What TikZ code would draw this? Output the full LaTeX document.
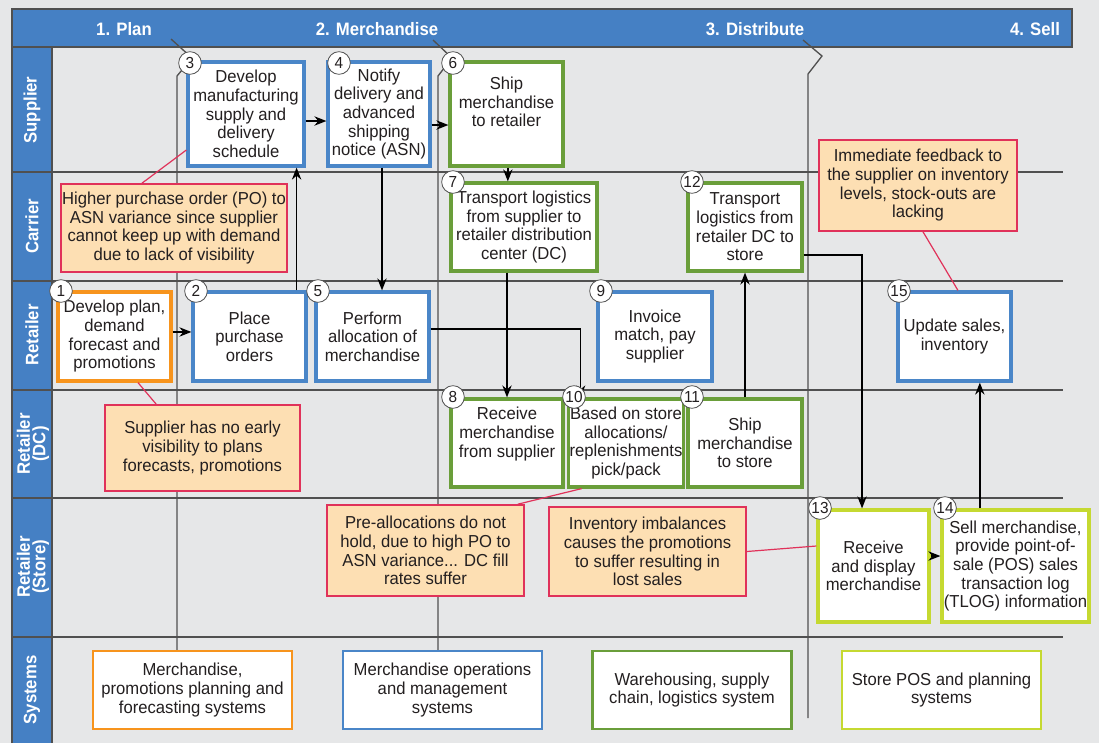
\documentclass[tikz,border=0pt]{standalone}
\usepackage{fontspec}
\setmainfont{Liberation Sans}[FakeStretch=0.96]
\newfontfamily\hdfont{Liberation Sans}[FakeStretch=0.93]
\usetikzlibrary{arrows.meta,calc}
\definecolor{bgc}{HTML}{E6E7E8}
\definecolor{hdblue}{HTML}{4580C4}
\definecolor{lineg}{HTML}{505050}
\definecolor{bluebd}{HTML}{4A86C8}
\definecolor{orangebd}{HTML}{F7941D}
\definecolor{greenbd}{HTML}{6A9E3A}
\definecolor{ygbd}{HTML}{C5D931}
\definecolor{calfill}{HTML}{FDDFB3}
\definecolor{calbd}{HTML}{E0325A}
\definecolor{txt}{HTML}{231F20}
\begin{document}
\begin{tikzpicture}[x=0.75pt,y=-0.75pt,
  bodyfont/.style={font=\fontsize{13}{14}\selectfont},
  stepbox/.style={draw, line width=2.4pt, fill=white, inner sep=1pt, align=center, text=txt, bodyfont},
  sysbox/.style={draw, line width=2pt, fill=white, inner sep=1pt, align=center, text=txt, bodyfont,
    minimum width={199*0.75pt}, minimum height={78*0.75pt}},
  callout/.style={draw=calbd, fill=calfill, line width=1.2pt, inner sep=1pt, align=center, text=txt, bodyfont},
  numc/.style={circle, draw=lineg, fill=white, line width=0.6pt, minimum size=17pt, inner sep=0pt, text=txt,
    font=\fontsize{12}{12}\selectfont},
  arr/.style={-{Stealth[length=9pt,width=7pt]}, line width=1.1pt, black},
  callline/.style={calbd, line width=0.9pt},
  divider/.style={lineg, line width=1pt},
  lanelab/.style={text=white, font=\hdfont\bfseries\fontsize{13.5}{11.5}\selectfont, rotate=90, align=center},
  phaselab/.style={text=white, font=\hdfont\bfseries\fontsize{13.5}{14}\selectfont}
]
\fill[bgc] (0,0) rectangle (1099,743);
\useasboundingbox (0,0) rectangle (1099,743);

% header and lane column
\fill[hdblue] (12,9) rectangle (1072,47);
\draw[lineg, line width=0.8pt] (12,9) rectangle (1072,47);
\fill[hdblue] (12,47) rectangle (52,743);
\draw[lineg, line width=0.8pt] (12,743) -- (12,47) -- (52,47) -- (52,743);

% lane separators
\foreach \yy in {172,281,390,498,637}
  \draw[lineg, line width=1pt] (12,\yy) -- (1063,\yy);

% phase labels
\node[phaselab] (ph1) at (124,29) {1. Plan};
\node[phaselab] (ph2) at (377,29) {2. Merchandise};
\node[phaselab] (ph3) at (755,29) {3. Distribute};
\node[phaselab] (ph4) at (1035,29) {4. Sell};

% lane labels
\node[lanelab] (l1) at (32,110) {Supplier};
\node[lanelab] (l2) at (32,226) {Carrier};
\node[lanelab] (l3) at (32,335) {Retailer};
\node[lanelab] (l4) at (33,444) {Retailer\\(DC)};
\node[lanelab] (l5) at (33,567) {Retailer\\(Store)};
\node[lanelab] (l6) at (32,690) {Systems};

% phase dividers
\draw[divider] (171,39) -- (192,58) -- (177,76) -- (177,651);
\draw[divider] (433,40) -- (452,58) -- (438,76) -- (438,651);
\draw[divider] (803,40) -- (822,56) -- (808,74) -- (808,718);

% process boxes
\node[stepbox, draw=orangebd, minimum width={113*0.75pt}, minimum height={89*0.75pt}] (n1) at (114.5,336.5)
  {Develop plan,\\demand\\forecast and\\promotions};
\node[stepbox, draw=bluebd, minimum width={113*0.75pt}, minimum height={89*0.75pt}] (n2) at (249.5,336.5)
  {Place\\purchase\\orders};
\node[stepbox, draw=bluebd, minimum width={116*0.75pt}, minimum height={104*0.75pt}] (n3) at (246,114)
  {Develop\\manufacturing\\supply and\\delivery\\schedule};
\node[stepbox, draw=bluebd, minimum width={102*0.75pt}, minimum height={104*0.75pt}] (n4) at (379,114)
  {Notify\\delivery and\\advanced\\shipping\\notice (ASN)};
\node[stepbox, draw=bluebd, minimum width={113*0.75pt}, minimum height={89*0.75pt}] (n5) at (372.5,336.5)
  {Perform\\allocation of\\merchandise};
\node[stepbox, draw=greenbd, minimum width={113*0.75pt}, minimum height={104*0.75pt}] (n6) at (506.5,114)
  {Ship\\merchandise\\to retailer\\[4pt]};
\node[stepbox, draw=greenbd, minimum width={146*0.75pt}, minimum height={88*0.75pt}] (n7) at (524,227)
  {Transport logistics\\from supplier to\\retailer distribution\\center (DC)};
\node[stepbox, draw=greenbd, minimum width={112*0.75pt}, minimum height={88*0.75pt}] (n8) at (507,443)
  {Receive\\merchandise\\from supplier\\[2pt]};
\node[stepbox, draw=bluebd, minimum width={114*0.75pt}, minimum height={89*0.75pt}] (n9) at (655,336.5)
  {Invoice\\match, pay\\supplier};
\node[stepbox, draw=greenbd, minimum width={112*0.75pt}, minimum height={88*0.75pt}] (n10) at (626,443)
  {Based on store\\allocations/\\replenishments\\pick/pack};
\node[stepbox, draw=greenbd, minimum width={114*0.75pt}, minimum height={88*0.75pt}] (n11) at (745,443)
  {Ship\\merchandise\\to store};
\node[stepbox, draw=greenbd, minimum width={114*0.75pt}, minimum height={88*0.75pt}] (n12) at (745,227)
  {Transport\\logistics from\\retailer DC to\\store};
\node[stepbox, draw=ygbd, minimum width={111*0.75pt}, minimum height={112*0.75pt}] (n13) at (873.5,566)
  {Receive\\and display\\merchandise};
\node[stepbox, draw=ygbd, minimum width={147*0.75pt}, minimum height={112*0.75pt}] (n14) at (1015.5,566)
  {Sell merchandise,\\provide point-of-\\sale (POS) sales\\transaction log\\(TLOG) information};
\node[stepbox, draw=bluebd, minimum width={113*0.75pt}, minimum height={89*0.75pt}] (n15) at (954.5,336.5)
  {Update sales,\\inventory};

% systems
\node[sysbox, draw=orangebd] (s1) at (192.5,690) {Merchandise,\\promotions planning and\\forecasting systems};
\node[sysbox, draw=bluebd] (s2) at (442.5,690) {Merchandise operations\\and management\\systems};
\node[sysbox, draw=greenbd] (s3) at (692,690) {Warehousing, supply\\chain, logistics system};
\node[sysbox, draw=ygbd] (s4) at (941.5,690) {Store POS and planning\\systems};

% flow arrows
\draw[arr] ([yshift=3.4pt]n1.east) -- ([yshift=3.4pt]n1.east -| n2.west);
\draw[arr] ([xshift=-8.25pt]n2.north east) -- ([xshift=-8.25pt]n2.north east |- n3.south);
\draw[arr] ([yshift=-5.25pt]n3.east) -- ([yshift=-5.25pt]n3.east -| n4.west);
\draw[arr] ([xshift=2.25pt]n4.south) -- ([xshift=2.25pt]n4.south |- n5.north);
\draw[arr] ([yshift=-8.25pt]n4.east) -- ([yshift=-8.25pt]n4.east -| n6.west);
\draw[arr] ([xshift=1pt]n6.south) -- ([xshift=1pt]n6.south |- n7.north);
\draw[arr] (n7.south -| n8.north) -- (n8.north);
\draw[arr] ([yshift=5.6pt]n5.east) -| ([xshift=10.5pt]n10.north west);
\draw[arr] (n11.north) -- (n11.north |- n12.south);
\draw[arr] ([yshift=-21pt]n12.east) -| ([xshift=-8.6pt]n13.north);
\draw[arr] ([yshift=7.5pt]n13.east) -- ([yshift=7.5pt]n13.east -| n14.west);
\draw[arr] ([xshift=19pt]n15.south |- n14.north) -- ([xshift=19pt]n15.south);

% callouts
\node[callout, minimum width={226*0.75pt}, minimum height={88*0.75pt}] (c1) at (174,228)
  {Higher purchase order (PO) to\\ASN variance since supplier\\cannot keep up with demand\\due to lack of visibility};
\node[callout, minimum width={195*0.75pt}, minimum height={86*0.75pt}] (c2) at (202.5,448)
  {Supplier has no early\\visibility to plans\\forecasts, promotions};
\node[callout, minimum width={197*0.75pt}, minimum height={91*0.75pt}] (c3) at (425.5,550.5)
  {Pre-allocations do not\\hold, due to high PO to\\ASN variance... DC fill\\rates suffer};
\node[callout, minimum width={197*0.75pt}, minimum height={89*0.75pt}] (c4) at (647.5,551.5)
  {Inventory imbalances\\causes the promotions\\to suffer resulting in\\lost sales};
\node[callout, minimum width={198*0.75pt}, minimum height={91*0.75pt}] (c5) at (918,185.5)
  {Immediate feedback to\\the supplier on inventory\\levels, stock-outs are\\lacking};

\draw[callline] ([xshift=61.5pt]c1.north west) -- ([yshift=-27pt]n3.west);
\draw[callline] ([xshift=39pt]c2.north west) -- ([xshift=17.6pt]n1.south);
\draw[callline] ([xshift=-5.25pt]c3.north east) -- ([xshift=11.25pt]n10.south west);
\draw[callline] (c4.east) -- ([yshift=15pt]n13.west);
\draw[callline] ([xshift=3.75pt]c5.south) -- ([xshift=2.6pt]n15.north);

% step numbers
\node[numc] (k1) at (61,291) {1};
\node[numc] (k2) at (196,291) {2};
\node[numc] (k3) at (190,63) {3};
\node[numc] (k4) at (339,63) {4};
\node[numc] (k5) at (318,291) {5};
\node[numc] (k6) at (453,63) {6};
\node[numc] (k7) at (453,182) {7};
\node[numc] (k8) at (453,397) {8};
\node[numc] (k9) at (601,291) {9};
\node[numc] (k10) at (574,397) {10};
\node[numc] (k11) at (692,397) {11};
\node[numc] (k12) at (692,182) {12};
\node[numc] (k13) at (820,508) {13};
\node[numc] (k14) at (945,508) {14};
\node[numc] (k15) at (899,291) {15};
\end{tikzpicture}
\end{document}
